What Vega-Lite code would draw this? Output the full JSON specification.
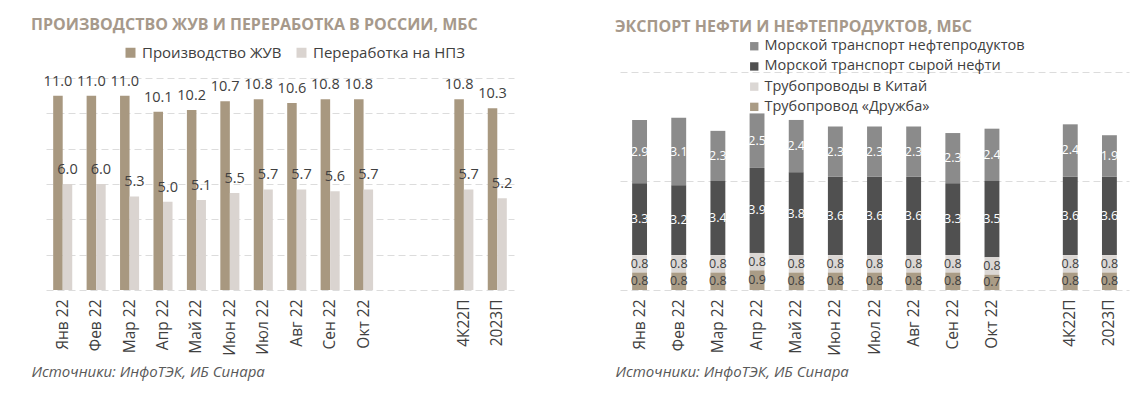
{
  "$schema": "https://vega.github.io/schema/vega-lite/v6.json",
  "background": "white",
  "padding": {"left": 31, "top": 17, "right": 5, "bottom": 5},
  "bounds": "flush",
  "spacing": 106,
  "config": {"font": "Open Sans", "view": {"stroke": null}},
  "resolve": {"scale": {"color": "independent"}, "legend": {"color": "independent"}},
  "datasets": {
    "left": [
      {"month": "Янв 22", "series": "Производство ЖУВ", "value": 11.0},
      {"month": "Фев 22", "series": "Производство ЖУВ", "value": 11.0},
      {"month": "Мар 22", "series": "Производство ЖУВ", "value": 11.0},
      {"month": "Апр 22", "series": "Производство ЖУВ", "value": 10.1},
      {"month": "Май 22", "series": "Производство ЖУВ", "value": 10.2},
      {"month": "Июн 22", "series": "Производство ЖУВ", "value": 10.7},
      {"month": "Июл 22", "series": "Производство ЖУВ", "value": 10.8},
      {"month": "Авг 22", "series": "Производство ЖУВ", "value": 10.6},
      {"month": "Сен 22", "series": "Производство ЖУВ", "value": 10.8},
      {"month": "Окт 22", "series": "Производство ЖУВ", "value": 10.8},
      {"month": "4К22П", "series": "Производство ЖУВ", "value": 10.8},
      {"month": "2023П", "series": "Производство ЖУВ", "value": 10.3},
      {"month": "Янв 22", "series": "Переработка на НПЗ", "value": 6.0},
      {"month": "Фев 22", "series": "Переработка на НПЗ", "value": 6.0},
      {"month": "Мар 22", "series": "Переработка на НПЗ", "value": 5.3},
      {"month": "Апр 22", "series": "Переработка на НПЗ", "value": 5.0},
      {"month": "Май 22", "series": "Переработка на НПЗ", "value": 5.1},
      {"month": "Июн 22", "series": "Переработка на НПЗ", "value": 5.5},
      {"month": "Июл 22", "series": "Переработка на НПЗ", "value": 5.7},
      {"month": "Авг 22", "series": "Переработка на НПЗ", "value": 5.7},
      {"month": "Сен 22", "series": "Переработка на НПЗ", "value": 5.6},
      {"month": "Окт 22", "series": "Переработка на НПЗ", "value": 5.7},
      {"month": "4К22П", "series": "Переработка на НПЗ", "value": 5.7},
      {"month": "2023П", "series": "Переработка на НПЗ", "value": 5.2}
    ],
    "right": [
      {"month": "Янв 22", "series": "Морской транспорт нефтепродуктов", "value": 2.9},
      {"month": "Фев 22", "series": "Морской транспорт нефтепродуктов", "value": 3.1},
      {"month": "Мар 22", "series": "Морской транспорт нефтепродуктов", "value": 2.3},
      {"month": "Апр 22", "series": "Морской транспорт нефтепродуктов", "value": 2.5},
      {"month": "Май 22", "series": "Морской транспорт нефтепродуктов", "value": 2.4},
      {"month": "Июн 22", "series": "Морской транспорт нефтепродуктов", "value": 2.3},
      {"month": "Июл 22", "series": "Морской транспорт нефтепродуктов", "value": 2.3},
      {"month": "Авг 22", "series": "Морской транспорт нефтепродуктов", "value": 2.3},
      {"month": "Сен 22", "series": "Морской транспорт нефтепродуктов", "value": 2.3},
      {"month": "Окт 22", "series": "Морской транспорт нефтепродуктов", "value": 2.4},
      {"month": "4К22П", "series": "Морской транспорт нефтепродуктов", "value": 2.4},
      {"month": "2023П", "series": "Морской транспорт нефтепродуктов", "value": 1.9},
      {"month": "Янв 22", "series": "Морской транспорт сырой нефти", "value": 3.3},
      {"month": "Фев 22", "series": "Морской транспорт сырой нефти", "value": 3.2},
      {"month": "Мар 22", "series": "Морской транспорт сырой нефти", "value": 3.4},
      {"month": "Апр 22", "series": "Морской транспорт сырой нефти", "value": 3.9},
      {"month": "Май 22", "series": "Морской транспорт сырой нефти", "value": 3.8},
      {"month": "Июн 22", "series": "Морской транспорт сырой нефти", "value": 3.6},
      {"month": "Июл 22", "series": "Морской транспорт сырой нефти", "value": 3.6},
      {"month": "Авг 22", "series": "Морской транспорт сырой нефти", "value": 3.6},
      {"month": "Сен 22", "series": "Морской транспорт сырой нефти", "value": 3.3},
      {"month": "Окт 22", "series": "Морской транспорт сырой нефти", "value": 3.5},
      {"month": "4К22П", "series": "Морской транспорт сырой нефти", "value": 3.6},
      {"month": "2023П", "series": "Морской транспорт сырой нефти", "value": 3.6},
      {"month": "Янв 22", "series": "Трубопроводы в Китай", "value": 0.8},
      {"month": "Фев 22", "series": "Трубопроводы в Китай", "value": 0.8},
      {"month": "Мар 22", "series": "Трубопроводы в Китай", "value": 0.8},
      {"month": "Апр 22", "series": "Трубопроводы в Китай", "value": 0.8},
      {"month": "Май 22", "series": "Трубопроводы в Китай", "value": 0.8},
      {"month": "Июн 22", "series": "Трубопроводы в Китай", "value": 0.8},
      {"month": "Июл 22", "series": "Трубопроводы в Китай", "value": 0.8},
      {"month": "Авг 22", "series": "Трубопроводы в Китай", "value": 0.8},
      {"month": "Сен 22", "series": "Трубопроводы в Китай", "value": 0.8},
      {"month": "Окт 22", "series": "Трубопроводы в Китай", "value": 0.8},
      {"month": "4К22П", "series": "Трубопроводы в Китай", "value": 0.8},
      {"month": "2023П", "series": "Трубопроводы в Китай", "value": 0.8},
      {"month": "Янв 22", "series": "Трубопровод «Дружба»", "value": 0.8},
      {"month": "Фев 22", "series": "Трубопровод «Дружба»", "value": 0.8},
      {"month": "Мар 22", "series": "Трубопровод «Дружба»", "value": 0.8},
      {"month": "Апр 22", "series": "Трубопровод «Дружба»", "value": 0.9},
      {"month": "Май 22", "series": "Трубопровод «Дружба»", "value": 0.8},
      {"month": "Июн 22", "series": "Трубопровод «Дружба»", "value": 0.8},
      {"month": "Июл 22", "series": "Трубопровод «Дружба»", "value": 0.8},
      {"month": "Авг 22", "series": "Трубопровод «Дружба»", "value": 0.8},
      {"month": "Сен 22", "series": "Трубопровод «Дружба»", "value": 0.8},
      {"month": "Окт 22", "series": "Трубопровод «Дружба»", "value": 0.7},
      {"month": "4К22П", "series": "Трубопровод «Дружба»", "value": 0.8},
      {"month": "2023П", "series": "Трубопровод «Дружба»", "value": 0.8}
    ]
  },
  "hconcat": [
    {
      "width": 468,
      "height": 218,
      "title": {"text": "ПРОИЗВОДСТВО ЖУВ И ПЕРЕРАБОТКА В РОССИИ, МБС", "anchor": "start", "dx": 0, "dy": -6, "fontSize": 16, "fontWeight": "bold", "color": "#a6998b", "font": "Open Sans", "offset": 6},
      "data": {"name": "left"},
      "encoding": {
        "x": {
          "field": "month", "type": "nominal", "sort": null,
          "scale": {"domain": ["Янв 22", "Фев 22", "Мар 22", "Апр 22", "Май 22", "Июн 22", "Июл 22", "Авг 22", "Сен 22", "Окт 22", " ", "  ", "4К22П", "2023П"], "paddingInner": 0.43, "paddingOuter": 0.215},
          "axis": {"title": "Источники: ИнфоТЭК, ИБ Синара", "labelAngle": -90, "labelFontSize": 15.5, "labelColor": "#404040", "labelPadding": 9, "ticks": false, "domain": false, "grid": false, "titleFontSize": 15, "titleFontStyle": "italic", "titleFontWeight": "normal", "titleColor": "#595959", "titleAnchor": "start", "titleAlign": "left", "titleX": -15, "titleY": 86, "titleBaseline": "alphabetic"}
        },
        "xOffset": {"field": "series", "type": "nominal", "scale": {"domain": ["Производство ЖУВ", "Переработка на НПЗ"], "paddingInner": 0, "paddingOuter": 0}},
        "y": {
          "field": "value", "type": "quantitative",
          "scale": {"domain": [0, 12.35], "nice": false},
          "axis": {"title": null, "labels": false, "ticks": false, "domain": false, "grid": true, "gridColor": "#dcdcdc", "gridDash": [7, 4], "gridWidth": 1, "values": [0, 2, 4, 6, 8, 10, 12]}
        }
      },
      "layer": [
        {
          "mark": {"type": "bar"},
          "encoding": {
            "color": {
              "field": "series", "type": "nominal",
              "scale": {"domain": ["Производство ЖУВ", "Переработка на НПЗ"], "range": ["#a89880", "#dad4d0"]},
              "legend": {"orient": "none", "legendX": 77, "legendY": -27, "direction": "horizontal", "title": null, "symbolType": "square", "symbolSize": 100, "symbolStrokeWidth": 0, "labelFontSize": 15, "labelColor": "#404040", "labelFont": "Open Sans", "labelLimit": 400, "columnPadding": 12, "labelOffset": 4}
            }
          }
        },
        {
          "mark": {"type": "text", "dy": -10, "baseline": "alphabetic", "fontSize": 14.5, "color": "#404040"},
          "encoding": {"text": {"field": "value", "type": "quantitative", "format": ".1f"}}
        }
      ]
    },
    {
      "width": 509,
      "height": 218,
      "title": {"text": "ЭКСПОРТ НЕФТИ И НЕФТЕПРОДУКТОВ, МБС", "anchor": "start", "dx": 0, "dy": 2, "fontSize": 16, "fontWeight": "bold", "color": "#a6998b", "font": "Open Sans", "offset": 6},
      "data": {"name": "right"},
      "transform": [
        {"calculate": "indexof(['Трубопровод «Дружба»', 'Трубопроводы в Китай', 'Морской транспорт сырой нефти', 'Морской транспорт нефтепродуктов'], datum.series)", "as": "ord"},
        {"stack": "value", "groupby": ["month"], "sort": [{"field": "ord", "order": "ascending"}], "as": ["v0", "v1"]},
        {"calculate": "(datum.v0 + datum.v1) / 2", "as": "mid"}
      ],
      "encoding": {
        "x": {
          "field": "month", "type": "nominal", "sort": null,
          "scale": {"domain": ["Янв 22", "Фев 22", "Мар 22", "Апр 22", "Май 22", "Июн 22", "Июл 22", "Авг 22", "Сен 22", "Окт 22", " ", "4К22П", "2023П"], "paddingInner": 0.62, "paddingOuter": 0.31},
          "axis": {"title": "Источники: ИнфоТЭК, ИБ Синара", "labelAngle": -90, "labelFontSize": 15.5, "labelColor": "#404040", "labelPadding": 9, "ticks": false, "domain": false, "grid": false, "titleFontSize": 15, "titleFontStyle": "italic", "titleFontWeight": "normal", "titleColor": "#595959", "titleAnchor": "start", "titleAlign": "left", "titleX": -5, "titleY": 86, "titleBaseline": "alphabetic"}
        }
      },
      "layer": [
        {
          "mark": {"type": "bar"},
          "encoding": {
            "y": {
              "field": "v0", "type": "quantitative",
              "scale": {"domain": [0, 10], "nice": false},
              "axis": {"title": null, "labels": false, "ticks": false, "domain": false, "grid": true, "gridColor": "#dcdcdc", "gridDash": [7, 4], "gridWidth": 1, "values": [0, 5, 10]}
            },
            "y2": {"field": "v1"},
            "color": {
              "field": "series", "type": "nominal",
              "scale": {"domain": ["Морской транспорт нефтепродуктов", "Морской транспорт сырой нефти", "Трубопроводы в Китай", "Трубопровод «Дружба»"], "range": ["#8b8b8b", "#505050", "#dbd7d4", "#aa9c86"]},
              "legend": {"orient": "none", "legendX": 127, "legendY": -33, "direction": "vertical", "title": null, "symbolType": "square", "symbolSize": 70, "symbolStrokeWidth": 0, "labelFontSize": 14.5, "labelColor": "#404040", "labelFont": "Open Sans", "labelLimit": 400, "rowPadding": 5.2, "labelOffset": 3}
            }
          }
        },
        {
          "mark": {"type": "text", "fontSize": 12.5},
          "encoding": {
            "y": {
              "field": "mid", "type": "quantitative",
              "axis": {"title": null, "labels": false, "ticks": false, "domain": false, "grid": true, "gridColor": "#dcdcdc", "gridDash": [7, 4], "gridWidth": 1, "values": [0, 5, 10]}
            },
            "text": {"field": "value", "type": "quantitative", "format": ".1f"},
            "color": {"condition": {"test": "datum.ord >= 2", "value": "#ffffff"}, "value": "#404040"}
          }
        }
      ]
    }
  ]
}
